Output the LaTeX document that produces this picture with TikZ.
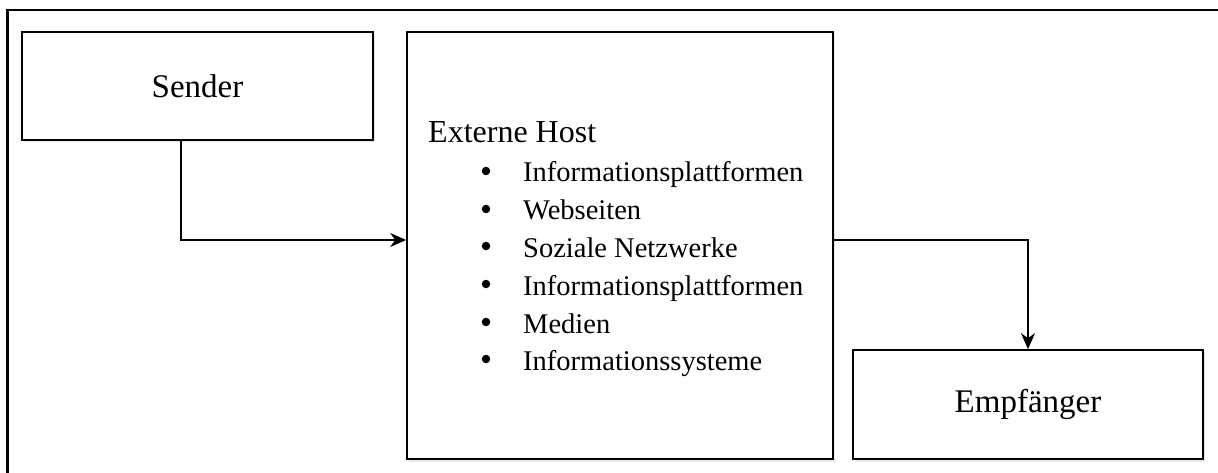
\documentclass[tikz,border=0pt]{standalone}
\usepackage{fontspec}
\setmainfont{Liberation Serif}
\usetikzlibrary{arrows.meta,shadows}

\tikzset{
  box/.style={draw, line width=1.6pt, fill=white, inner sep=0pt,
    drop shadow={opacity=0.18, shadow xshift=1.5pt, shadow yshift=-2.5pt}},
  bigtext/.style={font=\fontsize{33}{40}\selectfont},
  listtext/.style={font=\fontsize{28.5}{34}\selectfont, anchor=base west, inner sep=0pt},
  dot/.style={circle, fill=black, inner sep=0pt, minimum size=8.5pt},
  arr/.style={line width=1.8pt, -{Stealth[length=16pt,width=14pt,inset=5pt]}},
}

\begin{document}
\begin{tikzpicture}[x=1pt,y=-1pt]
  \useasboundingbox (0,0) rectangle (1218,473);
  \clip (0,0) rectangle (1218,473);

  % outer frame, running past the page on the right and at the bottom
  \draw[line width=2.2pt] (7.5,10) rectangle (1240,500);

  % boxes
  \node[box, bigtext, minimum width=351pt, minimum height=108pt] (sender) at (197.5,86) {Sender};
  \node[box, minimum width=426pt, minimum height=427pt] (ext) at (620,245.5) {};
  \node[box, bigtext, minimum width=350pt, minimum height=109pt] (empf) at (1028,404.5) {Empfänger};

  % contents of the host box
  \node[listtext, font=\fontsize{32}{38}\selectfont] (title) at (428,143) {Externe Host};
  \foreach \y/\t [count=\i] in {
      182/Informationsplattformen,
      220/Webseiten,
      257/Soziale Netzwerke,
      295/Informationsplattformen,
      333/Medien,
      370/Informationssysteme} {
    \node[dot] (b\i) at (486,\y-11) {};
    \node[listtext] (item\i) at (523,\y) {\t};
  }

  % connectors
  \draw[arr] ([xshift=160pt]sender.south west) |- ([yshift=5.5pt]ext.west);
  \draw[arr] ([yshift=5.5pt]ext.east) -| (empf.north);
\end{tikzpicture}
\end{document}
